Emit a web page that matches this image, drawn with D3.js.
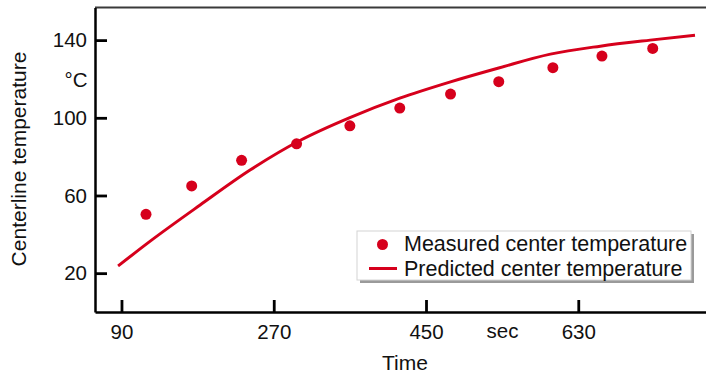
<!DOCTYPE html>
<html>
<head>
<meta charset="utf-8">
<script src="https://cdn.jsdelivr.net/npm/d3@7"></script>
<style>
  body { margin: 0; background: #fff; }
  svg text { font-family: "Liberation Sans", Arial, Helvetica, sans-serif; fill: #111; }
</style>
</head>
<body>
<div id="chart"></div>
<script>
// dati
var measuredTime = [119, 173, 232, 297, 360, 419, 479, 536, 600, 658, 718];
var measuredTemp = [50.3, 64.9, 78.1, 86.6, 95.9, 105, 112.2, 118.6, 125.8, 131.8, 135.7];

var predictedTime = [86, 124, 183, 242, 301, 360, 419, 478, 537, 597, 656, 715, 768];
var predictedTemp = [23.7, 36.5, 55.1, 73.1, 88.3, 100.1, 110.1, 118.4, 125.8, 132.8, 136.9, 140, 142.5];

var xTicks = [90, 270, 450, 630];
var yTicks = [20, 60, 100, 140];

var legendLabels = ["Measured center temperature", "Predicted center temperature"];

var red = "#d6001c";

// dimensioni
var width = 706, height = 373;
var plot = {left: 95, right: 706, top: 7.5, bottom: 312};

var svg = d3.select("#chart")
  .append("svg")
    .attr("width", width)
    .attr("height", height);

// scale
var x = d3.scaleLinear()
  .domain([58.7, 781])
  .range([plot.left, plot.right]);

var y = d3.scaleLinear()
  .domain([0, 156.8])
  .range([plot.bottom, plot.top]);

// bordo superiore
svg.append("line")
  .attr("x1", plot.left)
  .attr("x2", plot.right)
  .attr("y1", plot.top)
  .attr("y2", plot.top)
  .style("stroke", "#3a3a3a")
  .style("stroke-width", 2);

// Asse X
var gx = svg.append("g")
  .attr("transform", "translate(0," + plot.bottom + ")")
  .call(d3.axisBottom(x).tickValues(xTicks).tickSize(-12).tickSizeOuter(0).tickPadding(12));

// Asse Y
var gy = svg.append("g")
  .attr("transform", "translate(" + plot.left + ",0)")
  .call(d3.axisLeft(y).tickValues(yTicks).tickSize(-12).tickSizeOuter(0).tickPadding(8));

[gx, gy].forEach(function(g) {
  g.select(".domain").style("stroke", "#000").style("stroke-width", 2.5);
  g.selectAll(".tick line").style("stroke", "#000").style("stroke-width", 2.8);
  g.selectAll(".tick text")
    .style("font-size", "20.5px")
    .style("font-family", "'Liberation Sans', Arial, sans-serif")
    .attr("fill", "#111");
});

// unità e titoli
svg.append("text")
  .attr("x", 87.5)
  .attr("y", 80)
  .attr("dy", "0.36em")
  .attr("text-anchor", "end")
  .style("font-size", "20.5px")
  .text("°C");

svg.append("text")
  .attr("x", 502.5)
  .attr("y", 338)
  .attr("text-anchor", "middle")
  .style("font-size", "20.5px")
  .text("sec");

svg.append("text")
  .attr("x", 405)
  .attr("y", 370)
  .attr("text-anchor", "middle")
  .style("font-size", "21px")
  .text("Time");

svg.append("text")
  .attr("transform", "translate(26," + 159 + ") rotate(-90)")
  .attr("text-anchor", "middle")
  .style("font-size", "21px")
  .text("Centerline temperature");

// curva prevista
var line = d3.line()
  .x(function(d) { return x(d[0]); })
  .y(function(d) { return y(d[1]); })
  .curve(d3.curveMonotoneX);

svg.append("path")
  .datum(d3.zip(predictedTime, predictedTemp))
  .attr("d", line)
  .style("fill", "none")
  .style("stroke", red)
  .style("stroke-width", 3);

// punti misurati
svg.selectAll(".dot")
  .data(d3.zip(measuredTime, measuredTemp))
  .enter()
  .append("circle")
    .attr("class", "dot")
    .attr("cx", function(d) { return x(d[0]); })
    .attr("cy", function(d) { return y(d[1]); })
    .attr("r", 5.5)
    .style("fill", red);

// legenda
var legend = svg.append("g")
  .attr("transform", "translate(357,231)");

legend.append("rect")
  .attr("x", 3)
  .attr("y", 3)
  .attr("width", 334)
  .attr("height", 49)
  .style("fill", "#9a9a9a");

legend.append("rect")
  .attr("x", 0)
  .attr("y", 0)
  .attr("width", 334)
  .attr("height", 49)
  .style("fill", "#fff")
  .style("stroke", "#d4d4d4")
  .style("stroke-width", 1);

legend.append("circle")
  .attr("cx", 25.5)
  .attr("cy", 13.5)
  .attr("r", 5.5)
  .style("fill", red);

legend.append("line")
  .attr("x1", 12)
  .attr("x2", 40)
  .attr("y1", 37.5)
  .attr("y2", 37.5)
  .style("stroke", red)
  .style("stroke-width", 3);

legend.selectAll(".leg")
  .data(legendLabels)
  .enter()
  .append("text")
    .attr("class", "leg")
    .attr("x", 47)
    .attr("y", function(d, i) { return 19.5 + i * 25; })
    .style("font-size", "21.5px")
    .text(function(d) { return d; });
</script>
</body>
</html>
